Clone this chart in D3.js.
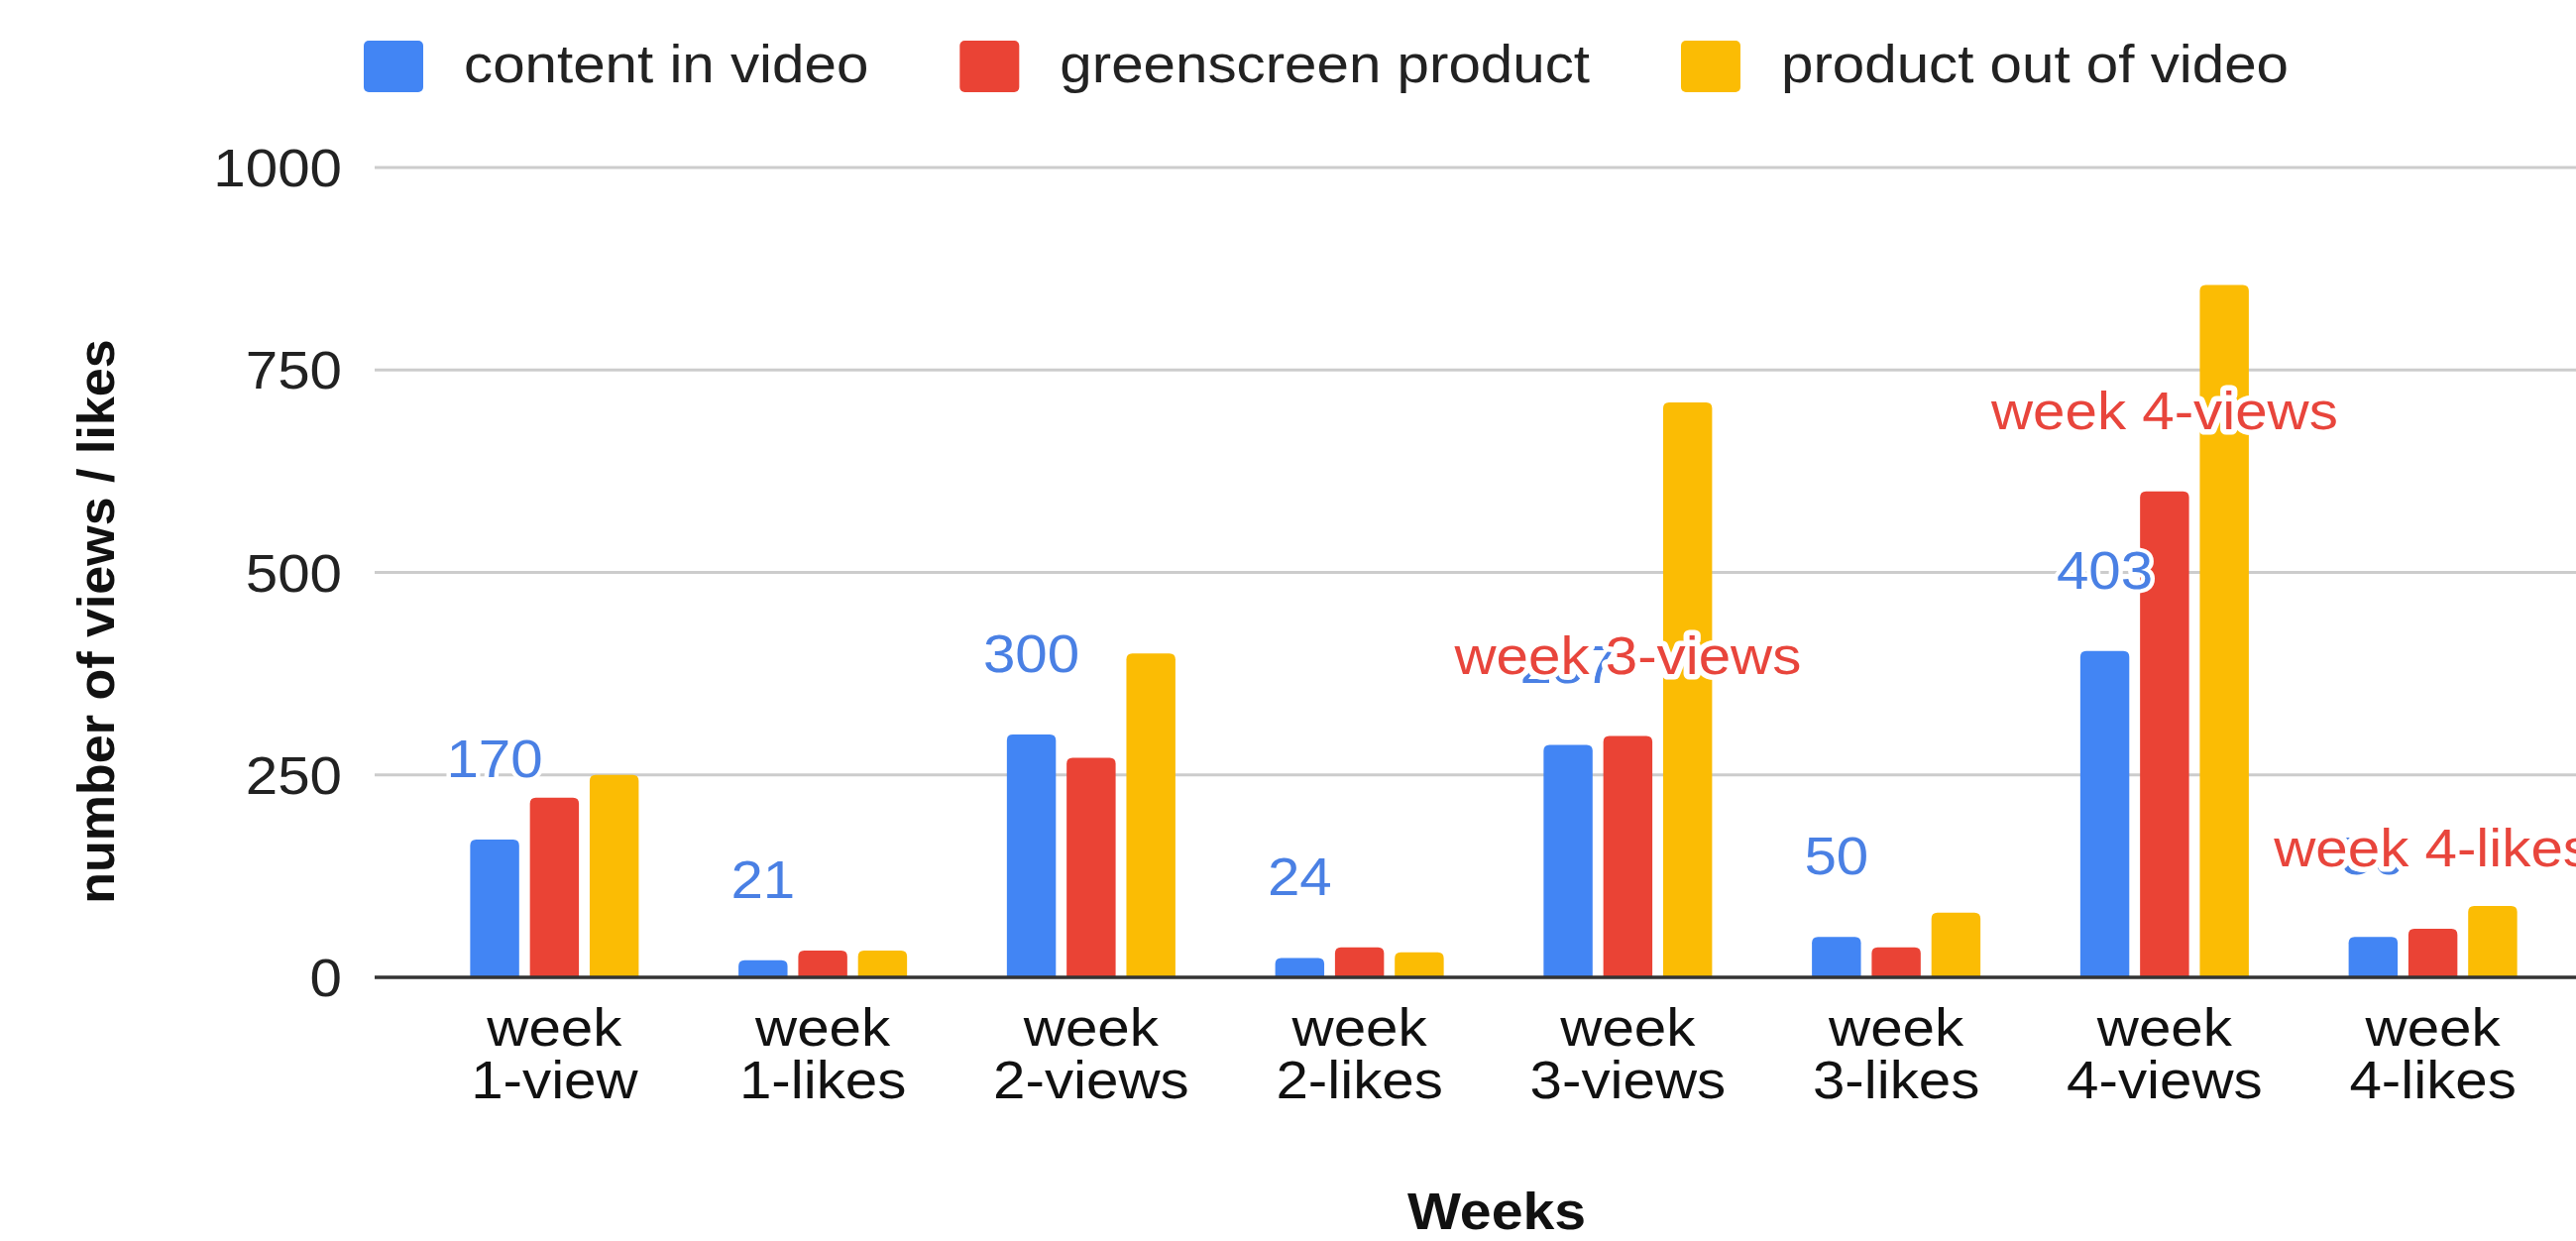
<!DOCTYPE html>
<html>
<head>
<meta charset="utf-8">
<script src="https://cdn.jsdelivr.net/npm/d3@7"></script>
<style>
html, body { margin: 0; padding: 0; background: #fff; }
svg { display: block; }
text { font-family: Arial, "Liberation Sans", Helvetica, sans-serif; }
</style>
</head>
<body>
<svg id="chart" width="2599" height="1252"></svg>
<script>
// chart data
const categories = ["week 1-view", "week 1-likes", "week 2-views", "week 2-likes",
                    "week 3-views", "week 3-likes", "week 4-views", "week 4-likes"];
const seriesNames = ["content in video", "greenscreen product", "product out of video"];
const contentInVideo     = [170, 21, 300, 24, 287, 50, 403, 50];
const greenscreenProduct = [222, 33, 271, 37, 298, 37, 600, 60];
const productOutOfVideo  = [250, 33, 400, 31, 710, 80, 855, 88];
const blueLabels = ["170", "21", "300", "24", "287", "50", "403", "50"];
const redLabels  = ["", "", "", "", "week 3-views", "", "week 4-views", "week 4-likes"];
const yTicks = [0, 250, 500, 750, 1000];

const colors = ["#4285f4", "#ea4335", "#fbbc04"];
const labelColors = ["#4a80e4", "#e8453c"];
const SX = 1.1;      // the screenshot text is a bit wide
const FS = 53;

const series = [contentInVideo, greenscreenProduct, productOutOfVideo];
const rows = categories.map((c, i) => ({
    cat: c,
    vals: series.map(s => s[i]),
    blue: blueLabels[i],
    red: redLabels[i]
}));

const svg = d3.select("#chart");
const plotLeft = 378, plotRight = 2599;

const x0 = d3.scaleBand()
    .domain(categories)
    .range([424, 2590])
    .paddingInner(0.372)
    .paddingOuter(0.186);

const x1 = d3.scaleBand()
    .domain(d3.range(series.length))
    .range([0, x0.bandwidth()])
    .paddingInner(0.18);

const y = d3.scaleLinear().domain([0, 1000]).range([986, 169]);

// gridlines
svg.append("g")
    .selectAll("line")
    .data(yTicks.filter(d => d > 0))
    .join("line")
    .attr("x1", plotLeft).attr("x2", plotRight)
    .attr("y1", d => y(d)).attr("y2", d => y(d))
    .attr("stroke", "#cccccc")
    .attr("stroke-width", 3);

// y axis labels
const yAxis = svg.append("g")
    .attr("transform", `translate(${plotLeft},0)`)
    .call(d3.axisLeft(y).tickValues(yTicks).tickFormat(d3.format("d")).tickSize(0).tickPadding(0));
yAxis.select(".domain").remove();
yAxis.selectAll("text")
    .attr("x", null)
    .attr("dy", "0.35em")
    .attr("transform", `translate(-33,0) scale(${SX},1)`)
    .attr("font-size", FS)
    .attr("font-family", null)
    .attr("fill", "#222")
    .attr("text-anchor", "end");

// bars with rounded tops
function barPath(bx, by, w, h, r) {
    r = Math.min(r, h / 2, w / 2);
    return `M${bx},${by + h}V${by + r}Q${bx},${by} ${bx + r},${by}` +
           `H${bx + w - r}Q${bx + w},${by} ${bx + w},${by + r}V${by + h}Z`;
}

const groups = svg.append("g")
    .selectAll("g")
    .data(rows)
    .join("g")
    .attr("transform", d => `translate(${x0(d.cat)},0)`);

groups.selectAll("path")
    .data(d => d.vals.map((v, k) => ({ v, k })))
    .join("path")
    .attr("d", d => barPath(x1(d.k), y(d.v), x1.bandwidth(), y(0) - y(d.v), 6))
    .attr("fill", d => colors[d.k]);

// baseline
svg.append("line")
    .attr("x1", plotLeft).attr("x2", plotRight)
    .attr("y1", y(0)).attr("y2", y(0))
    .attr("stroke", "#333")
    .attr("stroke-width", 3.5);

// x axis labels, two lines each
const xAxis = svg.append("g")
    .attr("transform", `translate(0,${y(0)})`)
    .call(d3.axisBottom(x0).tickSize(0));
xAxis.select(".domain").remove();
xAxis.selectAll("text").each(function (d) {
    const t = d3.select(this);
    const sp = d.indexOf(" ");
    t.text(null)
        .attr("y", null).attr("dy", null)
        .attr("font-size", FS)
        .attr("font-family", null)
        .attr("fill", "#111")
        .attr("transform", `scale(${SX},1)`);
    t.append("tspan").attr("x", 0).attr("y", 69).text(d.slice(0, sp));
    t.append("tspan").attr("x", 0).attr("y", 122).text(d.slice(sp + 1));
});

// data labels
function addLabels(key, k, halo) {
    svg.append("g")
        .selectAll("text")
        .data(rows.filter(r => r[key] !== ""))
        .join("text")
        .attr("transform", r => `translate(${x0(r.cat) + x1(k) + x1.bandwidth() / 2},${y(r.vals[k]) - 63}) scale(${SX},1)`)
        .attr("text-anchor", "middle")
        .attr("font-size", FS)
        .attr("fill", labelColors[k])
        .attr("stroke", "#fff")
        .attr("stroke-width", halo)
        .attr("stroke-linejoin", "round")
        .attr("paint-order", "stroke")
        .text(r => r[key]);
}
addLabels("blue", 0, 8);
addLabels("red", 1, 11);

// legend
const legend = svg.append("g");
let lx = 367;
seriesNames.forEach((name, k) => {
    legend.append("rect")
        .attr("x", lx).attr("y", 41)
        .attr("width", 60).attr("height", 52)
        .attr("rx", 5)
        .attr("fill", colors[k]);
    const t = legend.append("text")
        .attr("transform", `translate(${lx + 101},83) scale(${SX},1)`)
        .attr("font-size", FS)
        .attr("fill", "#222")
        .text(name);
    lx += 101 + t.node().getComputedTextLength() * SX + 92;
});

// axis titles
svg.append("text")
    .attr("transform", `translate(1510,1240) scale(${SX},1)`)
    .attr("text-anchor", "middle")
    .attr("font-size", 52)
    .attr("font-weight", "bold")
    .attr("fill", "#111")
    .text("Weeks");

svg.append("text")
    .attr("transform", "translate(115,627) rotate(-90)")
    .attr("text-anchor", "middle")
    .attr("font-size", 52)
    .attr("font-weight", "bold")
    .attr("fill", "#111")
    .text("number of views / likes");
</script>
</body>
</html>
